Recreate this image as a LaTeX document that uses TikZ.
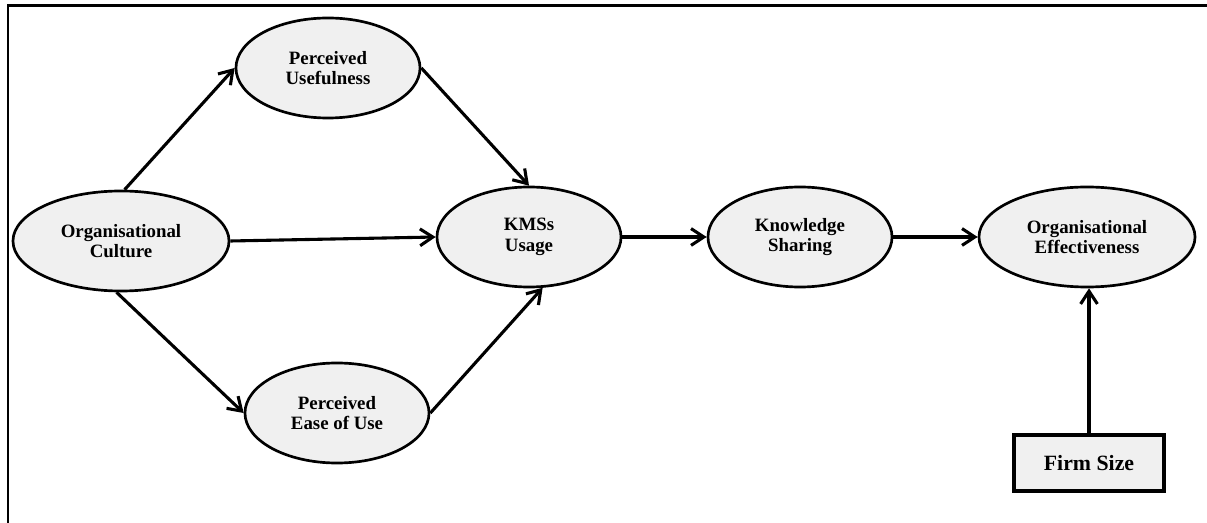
\documentclass[tikz,border=0pt]{standalone}
\usepackage{fontspec}
\setmainfont{Liberation Serif}
\usetikzlibrary{arrows.meta, shapes.geometric}
\definecolor{cfill}{HTML}{F0F0F0}
\definecolor{cink}{HTML}{000000}
\tikzset{
  every picture/.style={line width=1.9pt},
  construct/.style={ellipse, draw=cink, fill=cfill, align=center, inner sep=0pt,
    minimum width=#1, minimum height=2.5cm, font=\fontsize{13.4}{14.8}\selectfont\bfseries},
  construct/.default=4.6cm,
  control/.style={rectangle, draw=cink, fill=cfill, minimum width=3.75cm, minimum height=1.4cm,
    line width=2.2pt, font=\fontsize{15.5}{18}\selectfont\bfseries},
  arrow/.style={-{Straight Barb[length=3.2mm, width=4.2mm]}, draw=cink, line width=2.2pt},
}

\begin{document}
\begin{tikzpicture}[x=0.025cm, y=-0.025cm]
  \useasboundingbox (0,0) rectangle (1207,523);
  \draw[cink, line width=1.8pt] (8,523) -- (8,5.5) -- (1207,5.5);
  \foreach \id/\x/\y/\w/\txt in {
    oc/121/241/5.4cm/{Organisational\\Culture},
    pu/328/68/4.6cm/{Perceived\\Usefulness},
    peou/337/413/4.6cm/{Perceived\\Ease of Use},
    kms/529/237/4.6cm/{KMSs\\Usage},
    ks/800/237/4.6cm/{Knowledge\\Sharing},
    oe/1087/237/5.4cm/{Organisational\\Effectiveness}} {
    \node[construct=\w] (\id) at (\x, \y) {\txt};
  }
  \node[control] (fs) at (1089, 463) {Firm Size};
  \draw[arrow] (oc.86) -- (pu.west);
  \draw[arrow] (oc.east) -- (kms.west);
  \draw[arrow] (oc.265) -- (peou.west);
  \draw[arrow] (pu.east) -- (kms.north);
  \draw[arrow] (peou.east) -- (kms.-75);
  \draw[arrow] (kms.east) -- (ks.west);
  \draw[arrow] (ks.east) -- (oe.west);
  \draw[arrow] (fs.north) -- (fs.north |- oe.south);
\end{tikzpicture}
\end{document}
